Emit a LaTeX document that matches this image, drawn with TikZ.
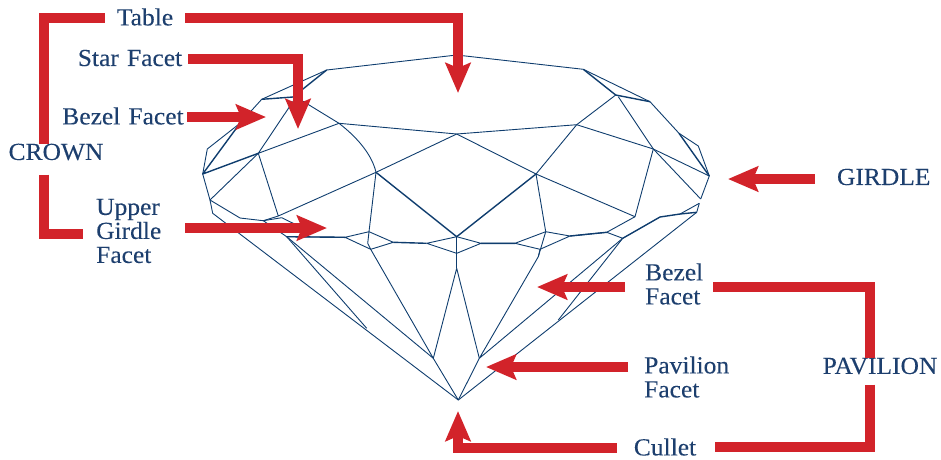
\documentclass[tikz,border=0pt]{standalone}
\usepackage{fontspec}
\setmainfont[FakeStretch=1.04,FakeBold=0.15]{Liberation Serif}
\usetikzlibrary{arrows.meta}
\definecolor{gemblue}{HTML}{0F3D6E}
\definecolor{labelblue}{HTML}{1D3F6E}
\definecolor{barred}{HTML}{D2232A}
\tikzset{
  facet/.style={draw=gemblue,line width=0.9pt,line join=round},
  ridge/.style={draw=gemblue,line width=1.4pt,line join=round},
  leader/.style={draw=barred,line width=9.5pt,line join=miter},
  pointer/.style={leader,-{Stealth[length=30pt,width=25pt,inset=5pt]}},
  lab/.style={text=labelblue,inner sep=0pt,font=\fontsize{24.5}{24}\selectfont},
}
\begin{document}
\begin{tikzpicture}[x=1pt,y=-1pt]
\useasboundingbox (0,0) rectangle (941,459);
% gem vertices
\foreach \n/\x/\y in {
  top/456.7/55, tl/326.7/70, tr/583.3/69.3, cl/261.7/99.3, dl/293/97, el/296/97,
  hl/240/123.3, fl/258.3/153.3, al/339/123.3, yy/456.7/134, ml/376/172.3,
  gl/202.7/174, kl/207.3/149, il/210/200, jl/212.7/213.3, ol/240/218,
  ll/263.3/220.7, l1/278.3/216, l2/281.7/217.7, l3/313/233, nl/286.7/236.7,
  pl/345/237.3, ql/369/231.7, ql2/367.7/243.3, rl/370.7/249.3, sl/393.3/242.3,
  ul/426.7/243.3, tt/456.7/236.7, bt/456.7/253.3, vv/456.7/268.3,
  wl/433.3/358.3, wr/479.3/358.3, zz/458.3/400, xl/366.7/328.3,
  ar/576.7/124.7, mr/536/174, cr/545.7/231.7, dr/635/216.7, er/653.3/149,
  fr/615.7/95, fr2/618.3/96.7, gr/709.3/176, hr/700.7/199, jr/650/101.7,
  kr/679/133.3, nr/698.3/146, lr/696.7/212.3, lr2/680/214, mmr/699.3/203.3,
  dr2/660/217, nnr/606.7/232.3, oor/570/236, ppr/540/249.3, ppr2/538.3/256.7,
  qr/515/243.3, rr/481/243.3, ssr/622.7/238.3, xr/558.3/320}
  {\coordinate (\n) at (\x,\y);}
% thin facet edges
\draw[facet] (cl) -- (tl) -- (top) -- (tr) -- (jr) -- (kr) -- (nr) -- (gr) -- (hr);
\draw[facet] (cl) -- (hl) (hl) -- (kl) -- (gl) -- (il) -- (jl) -- (zz);
\draw[facet] (el) -- (al) -- (yy) -- (ar) -- (fr);
\draw[facet] (fr2) -- (er) -- (gr);
\draw[facet] (el) -- (fl) -- (al);
\draw[facet] (al) .. controls (358,138) and (372,155) .. (ml);
\draw[facet] (yy) -- (ml) -- (ql);
\draw[facet] (ml) -- (l1) -- (fl) -- (il) -- (ol) -- (ll) -- (l1);
\draw[facet] (ll) -- (l2) -- (l3);
\draw[facet] (ll) -- (nl) -- (wl) -- (vv) -- (wr);
\draw[facet] (nl) -- (xl);
\draw[facet] (nl) -- (pl);
\draw[facet] (pl) -- (ql) -- (sl) -- (rl) -- (pl);
\draw[facet] (ql) -- (ql2) -- (rl) -- (wl) -- (zz) -- (wr);
\draw[facet] (ul) -- (tt) (ul) -- (bt);
\draw[facet] (yy) -- (mr) -- (ar) -- (er) -- (dr) -- (mr) -- (cr);
\draw[facet] (er) -- (hr) (mmr) -- (lr) -- (zz);
\draw[facet] (lr2) -- (mmr);
\draw[facet] (dr) -- (nnr) -- (ssr) -- (wr) -- (ppr2) -- (ppr);
\draw[facet] (ssr) -- (xr);
\draw[facet] (nnr) -- (oor) -- (cr) -- (qr) -- (ppr) -- (oor);
\draw[facet] (cr) -- (ppr2);
\draw[facet] (qr) -- (rr) -- (tt) (rr) -- (bt);
% heavier edges
\draw[ridge] (cl) -- (dl) (tl) -- (dl);
\draw[ridge] (hl) -- (gl) -- (fl);
\draw[ridge] (tr) -- (fr) -- (jr);
\draw[ridge] (kr) -- (gr);
\draw[ridge] (ml) -- (tt) -- (mr);
\draw[ridge] (tt) -- (bt) -- (vv);
\draw[ridge] (nl) -- (pl) (sl) -- (ul) (oor) -- (nnr) (qr) -- (rr);
\draw[ridge] (ssr) -- (dr2) -- (lr2) -- (lr);
% labels
\node[lab,text width=60pt,align=center] (table) at (145,17) {Table};
\node[lab,text width=110pt,align=center] (star) at (130,58) {Star Facet};
\node[lab,text width=122pt,align=center] (bezelc) at (123,116) {Bezel Facet};
\node[lab,text width=96pt,align=center] (crown) at (56,152) {CROWN};
\node[lab,text width=67pt,align=left,anchor=west] (upper) at (96,231) {Upper\\Girdle\\Facet};
\node[lab,text width=92pt,align=center] (girdle) at (883,177) {GIRDLE};
\node[lab,text width=58pt,align=left,anchor=west] (bezelp) at (645,284) {Bezel\\Facet};
\node[lab,text width=88pt,align=left,anchor=west] (pav) at (644,377) {Pavilion\\Facet};
\node[lab,text width=116pt,align=center] (pavilion) at (880,366) {PAVILION};
\node[lab,text width=66pt,align=center] (cullet) at (665,447) {Cullet};
% connector targets and corners
\foreach \n/\x/\y in {
  ctable/458/18, ttable/458/93, cstar/298/59, tstar/298/129, tbezel/266/117,
  cup/44/18, cdn/44/234, tupper/327/228, tgirdle/728/179, tbezelp/537/287,
  cbp/870/287, tpav/486/367, cpl/870/447, ccul/458/448, tcul/458/411}
  {\coordinate (\n) at (\x,\y);}
% connectors
\draw[pointer,shorten <=10pt] (table.east |- ctable) -- (ctable) -- (ttable);
\draw[leader,shorten <=10pt] (table.west |- ctable) -- (cup) -- (crown.north -| cup);
\draw[pointer,shorten <=3pt] (star.east |- cstar) -- (cstar) -- (tstar);
\draw[pointer,shorten <=3pt] (bezelc.east |- tbezel) -- (tbezel);
\draw[leader] (crown.south -| cdn) ++(0,14) -- (cdn) -- ++(39,0);
\draw[pointer,shorten <=22pt] (upper.east |- tupper) -- (tupper);
\draw[pointer,shorten <=22pt] (girdle.west |- tgirdle) -- (tgirdle);
\draw[pointer,shorten <=20pt] (bezelp.west |- tbezelp) -- (tbezelp);
\draw[leader,shorten <=10pt] (bezelp.east |- cbp) -- (cbp) -- (pavilion.north -| cbp);
\draw[pointer,shorten <=16pt] (pav.west |- tpav) -- (tpav);
\draw[leader,shorten <=10pt,shorten >=17pt] (pavilion.south -| cpl) -- (cpl) -- (cullet.east |- cpl);
\draw[pointer,shorten <=15pt] (cullet.west |- ccul) -- (ccul) -- (tcul);
\end{tikzpicture}
\end{document}
